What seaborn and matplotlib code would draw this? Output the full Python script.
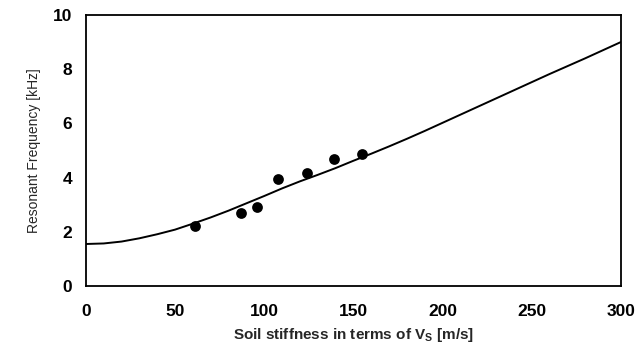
import matplotlib
matplotlib.use("Agg")
import matplotlib.pyplot as plt
import seaborn as sns
import pandas as pd

# Model curve, values
curve_vs = [0, 10, 20, 30, 40, 50, 60, 70, 80, 90, 100, 110, 120, 130, 140, 150,
            160, 170, 180, 190, 200, 210, 220, 230, 240, 250, 260, 270, 280, 290, 300]
curve_freq = [1.55, 1.57, 1.64, 1.76, 1.91, 2.08, 2.30, 2.53, 2.78, 3.05, 3.32,
              3.60, 3.86, 4.10, 4.35, 4.62, 4.88, 5.15, 5.43, 5.72, 6.02, 6.32,
              6.62, 6.92, 7.22, 7.52, 7.82, 8.11, 8.40, 8.70, 9.00]

# Measured points
meas_vs = [61, 87, 96, 108, 124, 139, 155]
meas_freq = [2.21, 2.68, 2.93, 3.94, 4.16, 4.67, 4.87]

x_ticks = [0, 50, 100, 150, 200, 250, 300]
y_ticks = [0, 2, 4, 6, 8, 10]

sns.set_theme(style="white")
plt.rcParams['font.family'] = ['Liberation Sans', 'DejaVu Sans']

curve_df = pd.DataFrame({"vs": curve_vs, "f": curve_freq})
meas_df = pd.DataFrame({"vs": meas_vs, "f": meas_freq})

fig = plt.figure(figsize=(6.36, 3.49), dpi=100)
ax = fig.add_axes([0.135, 0.1805, 0.841, 0.7765])

sns.lineplot(data=curve_df, x="vs", y="f", ax=ax, color="black", linewidth=1.4)
sns.scatterplot(data=meas_df, x="vs", y="f", ax=ax, color="black", s=60,
                edgecolor="black", linewidth=0, zorder=3)

ax.set_xlim(0, 300)
ax.set_ylim(0, 10)
ax.set_xticks(x_ticks)
ax.set_yticks(y_ticks)
ax.tick_params(direction="in", length=4, width=1, colors="black",
               labelsize=12.5, pad=10)
ax.tick_params(axis="x", pad=13)
for lab in ax.get_xticklabels() + ax.get_yticklabels():
    lab.set_fontweight("bold")
for sp in ax.spines.values():
    sp.set_color("black")
    sp.set_linewidth(1.3)

ax.set_xlabel("Soil stiffness in terms of V$_\\mathregular{S}$ [m/s]", fontsize=11,
              fontweight="bold", labelpad=5)
ax.set_ylabel("Resonant Frequency [kHz]", fontsize=10, labelpad=8)

fig.savefig("out.png", dpi=100, facecolor="white")
